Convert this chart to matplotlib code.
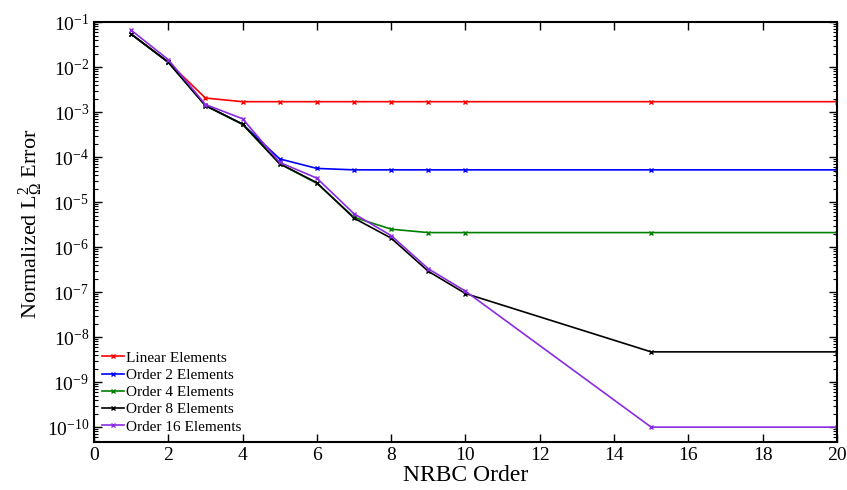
import numpy as np
import matplotlib
matplotlib.use('Agg')
import matplotlib.pyplot as plt
from matplotlib.ticker import LogLocator, NullFormatter

plt.rcParams['font.family'] = ['Liberation Serif', 'DejaVu Serif']
plt.rcParams['mathtext.fontset'] = 'custom'
plt.rcParams['mathtext.rm'] = 'Liberation Serif'
plt.rcParams['mathtext.it'] = 'Liberation Serif:italic'
plt.rcParams['mathtext.bf'] = 'Liberation Serif:bold'

# NRBC order
order = [1, 2, 3, 4, 5, 6, 7, 8, 9, 10, 15, 20]

# normalized L2 error per element order
linear = [0.054, 0.0128, 2.05e-3, 1.7e-3, 1.7e-3, 1.7e-3, 1.7e-3, 1.7e-3, 1.7e-3, 1.7e-3, 1.7e-3, 1.7e-3]
order2 = [0.054, 0.0128, 1.4e-3, 5.4e-4, 9.1e-5, 5.6e-5, 5.2e-5, 5.2e-5, 5.2e-5, 5.2e-5, 5.2e-5, 5.2e-5]
order4 = [0.054, 0.0128, 1.39e-3, 5.3e-4, 7.1e-5, 2.6e-5, 4.6e-6, 2.5e-6, 2.1e-6, 2.1e-6, 2.1e-6, 2.1e-6]
order8 = [0.054, 0.0128, 1.39e-3, 5.4e-4, 7.1e-5, 2.7e-5, 4.4e-6, 1.58e-6, 2.9e-7, 9.3e-8, 4.7e-9, 4.7e-9]
order16 = [0.066, 0.0146, 1.47e-3, 7.1e-4, 7.6e-5, 3.4e-5, 5.5e-6, 1.8e-6, 3.3e-7, 1.05e-7, 1.0e-10, 1.0e-10]

series = [
    ('Linear Elements', linear, '#ff0000'),
    ('Order 2 Elements', order2, '#0000ff'),
    ('Order 4 Elements', order4, '#008000'),
    ('Order 8 Elements', order8, '#000000'),
    ('Order 16 Elements', order16, '#8a2be2'),
]

fig = plt.figure(figsize=(8.47, 4.9), dpi=100)
ax = fig.add_axes([0.111, 0.098, 0.877, 0.857])

for label, vals, c in series:
    ax.semilogy(order, vals, '-x', color=c, lw=1.2, ms=3.5, mew=1.0, label=label)

ax.set_xlim(0, 20)
ax.set_ylim(10**-10.33, 1e-1)
ax.set_xticks(np.arange(0, 21, 2))
ax.yaxis.set_major_locator(LogLocator(base=10, numticks=20))
ax.yaxis.set_minor_locator(LogLocator(base=10, subs=np.arange(2, 10), numticks=20))
ax.yaxis.set_minor_formatter(NullFormatter())

ax.tick_params(which='both', direction='in', top=True, right=True, labelsize=14)
ax.tick_params(which='major', length=6, width=1)
ax.tick_params(which='minor', length=3, width=0.8)
for s in ax.spines.values():
    s.set_linewidth(1.5)

ax.set_xlabel('NRBC Order', fontsize=17, labelpad=1)
ax.set_ylabel(r'Normalized $\mathrm{L}_{\Omega}^{2}$ Error', fontsize=16)
ax.yaxis.set_label_coords(-0.066, 0.52)

ax.legend(loc='lower left', frameon=False, fontsize=11, handlelength=1.4,
          handletextpad=0.15, labelspacing=0.23, borderaxespad=0.15)

fig.savefig('out.png', dpi=100)
